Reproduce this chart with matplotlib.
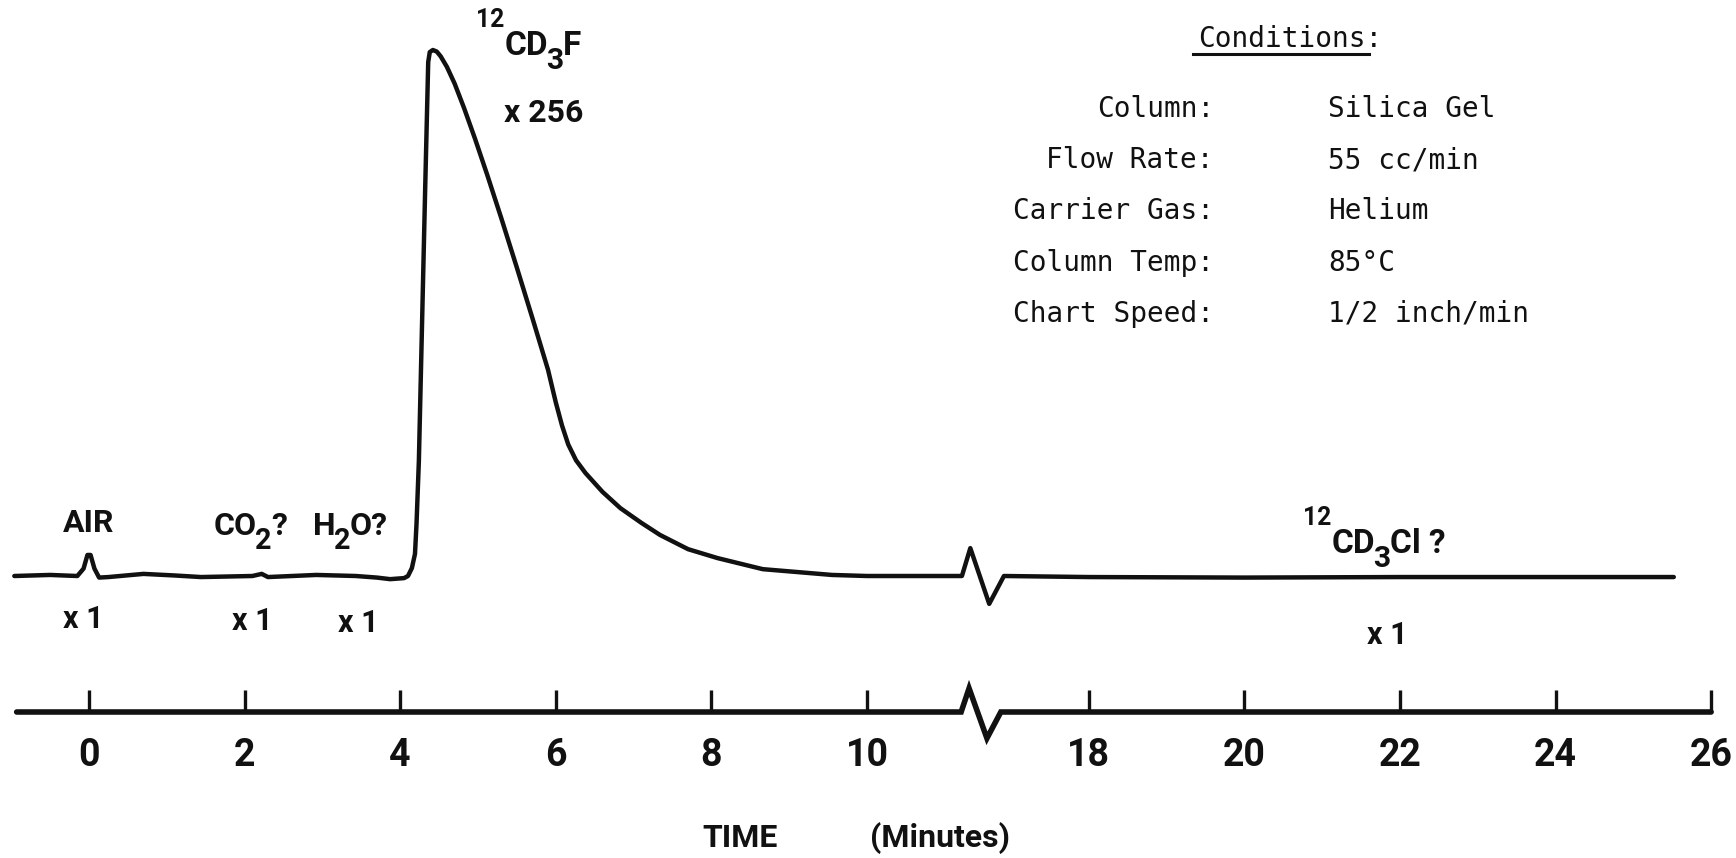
import numpy as np
import matplotlib.pyplot as plt
from matplotlib.lines import Line2D

# chromatogram, 0-10 min (response in % of the 12CD3F peak)
time_a = [-0.96, -0.50, -0.15, -0.07, -0.02, 0.02, 0.07, 0.13, 0.25, 0.70,
          1.10, 1.44, 2.10, 2.22, 2.30, 2.92, 3.43, 3.70, 3.87, 4.05,
          4.10, 4.15, 4.19, 4.21, 4.24, 4.32, 4.36, 4.38, 4.42, 4.47,
          4.52, 4.60, 4.70, 4.82, 4.96, 5.12, 5.30, 5.50, 5.70, 5.90,
          6.00, 6.08, 6.16, 6.26, 6.38, 6.60, 6.83, 7.10, 7.34, 7.70,
          8.08, 8.66, 9.55, 10.0]
resp_a = [0.0, 0.2, 0.0, 1.4, 4.0, 4.0, 1.4, -0.3, -0.2, 0.4,
          0.1, -0.2, 0.0, 0.4, -0.2, 0.2, 0.0, -0.3, -0.6, -0.4,
          0.0, 1.5, 4.2, 10.0, 21.9, 73.0, 97.7, 99.6, 100.0, 99.7,
          98.8, 96.8, 93.6, 89.0, 83.2, 76.2, 68.0, 58.6, 49.0, 39.2,
          33.0, 28.6, 25.0, 22.0, 19.6, 16.0, 12.9, 10.1, 7.8, 5.1,
          3.4, 1.3, 0.2, 0.0]

# chromatogram after the break, 18-25.5 min
time_b = [18.0, 20.0, 22.0, 24.0, 25.52]
resp_b = [-0.2, -0.3, -0.2, -0.2, -0.2]

tick_minutes = [0, 2, 4, 6, 8, 10, 18, 20, 22, 24, 26]

cond_names = ['Column:', 'Flow Rate:', 'Carrier Gas:', 'Column Temp:', 'Chart Speed:']
cond_values = ['Silica Gel', '55 cc/min', 'Helium', '85°C', '1/2 inch/min']

# time axis is broken between 10 and 18 min
BREAK_LO, BREAK_HI, GAP = 10.0, 18.0, 2.85


def pos(t):
    t = np.asarray(t, dtype=float)
    return np.where(t <= BREAK_LO, t, t - BREAK_HI + BREAK_LO + GAP)


W, H = 1736, 858
fig = plt.figure(figsize=(W / 100, H / 100), dpi=100)
ax = fig.add_axes([0, 0, 1, 1])
ax.set_xlim(-89 / 77.8, (W - 89) / 77.8)
ax.set_ylim((576 - H) / 5.26, 576 / 5.26)
Y_AXIS = (576 - 712) / 5.26

ink = '#111111'


def zigzag(x0, y0, w, up, down):
    # little break symbol: up, down, back to the line
    xs = [x0, x0 + 0.2 * w, x0 + 0.65 * w, x0 + w]
    ys = [y0, y0 + up, y0 - down, y0]
    return xs, ys


# trace
zx, zy = zigzag(11.22, 0.0, 0.54, 5.3, 5.3)
trace_x = np.concatenate([pos(time_a), zx, pos(time_b)])
trace_y = np.concatenate([resp_a, zy, resp_b])
ax.plot(trace_x, trace_y, color=ink, lw=3.2, solid_joinstyle='round',
        solid_capstyle='round')

# time axis line with its own break
ax.spines[['top', 'left', 'right']].set_visible(False)
ax.spines['bottom'].set_position(('data', Y_AXIS))
ax.spines['bottom'].set_color('none')
zx, zy = zigzag(11.21, Y_AXIS, 0.51, 4.5, 5.0)
axis_x = np.concatenate([[-0.93], zx, pos([26])])
axis_y = np.concatenate([[Y_AXIS], zy, [Y_AXIS]])
ax.plot(axis_x, axis_y, color=ink, lw=4.0, solid_capstyle='round',
        solid_joinstyle='miter')

ax.set_xticks(pos(tick_minutes), [str(m) for m in tick_minutes])
ax.tick_params(axis='x', direction='in', length=16, width=2.4, color=ink,
               pad=18, labelsize=27, labelcolor=ink)
for lab in ax.get_xticklabels():
    lab.set_fontfamily('Roboto')
    lab.set_fontweight('bold')
ax.set_yticks([])
ax.patch.set_visible(False)


def fx(x):
    return x / W


def fy(y):
    return 1 - y / H


letter = dict(fontfamily='Roboto', fontweight='bold', color=ink)


def chem(x, y, parts, size=23):
    # lettered formula: pieces are normal, 'sub' or 'sup', laid left to right
    prev = None
    for s, kind in parts:
        fs = {'n': size, 'sub': size * 0.9, 'sup': size * 0.74}[kind]
        dy = {'n': 0, 'sub': -0.43 * size, 'sup': 0.84 * size}[kind]
        dx = -1.5 if kind == 'sub' else 0.0
        if prev is None:
            xy, coords = (fx(x), fy(y)), 'figure fraction'
        else:
            xy, coords = (1, fy(y)), (prev, fig.transFigure)
        prev = ax.annotate(s, xy=xy, xycoords=coords, xytext=(dx, dy),
                           textcoords='offset points', fontsize=fs,
                           ha='left', va='baseline', **letter)


# peak labels
ax.text(fx(63), fy(532), 'AIR', fontsize=23, va='baseline',
        transform=fig.transFigure, **letter)
chem(214, 535, [('CO', 'n'), ('2', 'sub'), ('?', 'n')])
chem(313, 535, [('H', 'n'), ('2', 'sub'), ('O?', 'n')])
chem(476, 55, [('12', 'sup'), ('CD', 'n'), ('3', 'sub'), ('F', 'n')], size=24)
ax.text(fx(504), fy(122), 'x 256', fontsize=23, va='baseline',
        transform=fig.transFigure, **letter)
chem(1303, 553, [('12', 'sup'), ('CD', 'n'), ('3', 'sub'), ('Cl ?', 'n')], size=24)

for x, y in [(63, 628), (232, 630), (338, 632), (1367, 644)]:
    ax.text(fx(x), fy(y), 'x 1', fontsize=22, va='baseline',
            transform=fig.transFigure, **letter)

# axis title
ax.text(fx(740), fy(838), 'TIME', fontsize=23, ha='center', va='center',
        transform=fig.transFigure, **letter)
ax.text(fx(940), fy(838), '(Minutes)', fontsize=23, ha='center', va='center',
        transform=fig.transFigure, **letter)

# conditions block
mono = dict(fontfamily='DejaVu Sans Mono', fontsize=20, color=ink,
            transform=fig.transFigure, va='baseline')
ax.text(fx(1198), fy(47), 'Conditions:', **mono)
fig.add_artist(Line2D([fx(1193), fx(1369)], [fy(54), fy(54)], color=ink, lw=2.2))
for i, (name, val) in enumerate(zip(cond_names, cond_values)):
    yb = 117 + i * 51.2
    ax.text(fx(1214), fy(yb), name, ha='right', **mono)
    ax.text(fx(1328), fy(yb), val, ha='left', **mono)

fig.savefig('out.png', dpi=100, facecolor='white')
